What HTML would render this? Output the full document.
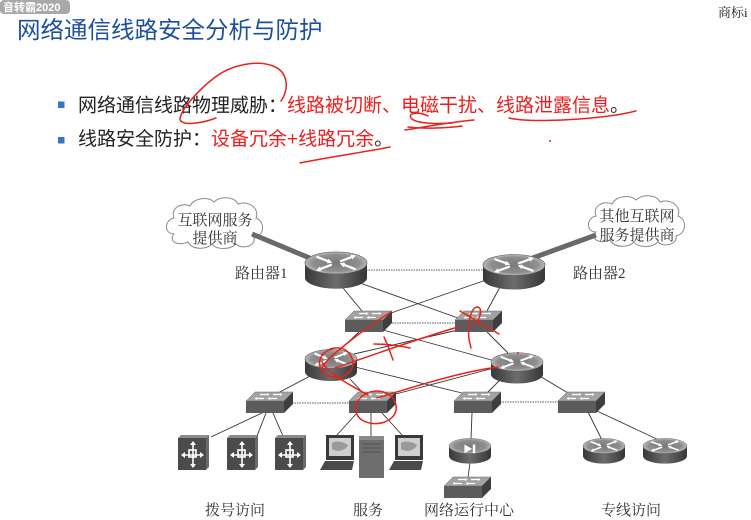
<!DOCTYPE html>
<html>
<head>
<meta charset="utf-8">
<style>
  html,body{margin:0;padding:0;background:#fff;}
  body{width:751px;height:520px;overflow:hidden;}
  svg{display:block;}
  .sans{font-family:"Liberation Sans","Noto Sans CJK SC",sans-serif;}
  .serif{font-family:"Liberation Serif","Noto Serif CJK SC",serif;}
</style>
</head>
<body>
<svg width="751" height="520" viewBox="0 0 751 520" xmlns="http://www.w3.org/2000/svg">
<defs>
  <linearGradient id="rb" x1="0" x2="1" y1="0" y2="0">
    <stop offset="0" stop-color="#383838"/>
    <stop offset="0.5" stop-color="#6c6c6c"/>
    <stop offset="1" stop-color="#363636"/>
  </linearGradient>
  <radialGradient id="rt" cx="0.5" cy="0.5" r="0.5">
    <stop offset="0" stop-color="#7a7a7a"/>
    <stop offset="0.75" stop-color="#8e8e8e"/>
    <stop offset="1" stop-color="#b8b8b8"/>
  </radialGradient>
  <marker id="ah" viewBox="0 0 4 4" markerWidth="2.2" markerHeight="2.2" refX="1" refY="2" orient="auto">
    <path d="M0,0 L4,2 L0,4Z" fill="#fff"/>
  </marker>
  <g id="router">
    <path d="M-30 0 L-30 14 A30 10.5 0 0 0 30 14 L30 0 Z" fill="url(#rb)"/>
    <ellipse rx="30" ry="10.5" fill="url(#rt)" stroke="#5a5a5a" stroke-width="0.6"/>
    <g stroke="#fff" stroke-width="2.2" fill="none" marker-end="url(#ah)">
      <path d="M-19 -6 L-7 -1.5"/>
      <path d="M19 6 L7 1.5"/>
      <path d="M4 -1.5 L16 -6"/>
      <path d="M-4 1.5 L-16 6"/>
    </g>
  </g>
  <g id="noc">
    <path d="M-30 0 L-30 14 A30 10.5 0 0 0 30 14 L30 0 Z" fill="url(#rb)"/>
    <ellipse rx="30" ry="10.5" fill="url(#rt)" stroke="#5a5a5a" stroke-width="0.6"/>
    <path d="M-8 -2 L3 4 L-8 10 Z" fill="#fff"/>
    <rect x="4" y="-2" width="3.5" height="12" fill="#fff"/>
  </g>
  <g id="sw">
    <polygon points="0,9 9,0 47,0 38,9" fill="#a3a3a3" stroke="#6a6a6a" stroke-width="0.5"/>
    <rect x="0" y="9" width="38" height="12" fill="#5c5c5c"/>
    <polygon points="38,9 47,0 47,12 38,21" fill="#3e3e3e"/>
    <g stroke="#fff" stroke-width="1.2">
      <path d="M14 2.5 H21 M27 2.5 H34 M11 6.5 H18 M24 6.5 H31"/>
    </g>
    <path d="M21 1 L23.5 2.5 L21 4Z M34 1 L36.5 2.5 L34 4Z M11 5 L8.5 6.5 L11 8Z M24 5 L21.5 6.5 L24 8Z" fill="#fff"/>
  </g>
  <g id="dial">
    <polygon points="0,3 3,0 31,0 28,3" fill="#8c8c8c"/>
    <polygon points="28,3 31,0 31,32 28,35" fill="#6a6a6a"/>
    <rect x="0" y="3" width="28" height="32" fill="#4b4b4b"/>
    <g stroke="#fff" stroke-width="1.6" fill="none">
      <path d="M6 20 H23 M15 9 V30"/>
      <rect x="11" y="15" width="7" height="7"/>
    </g>
    <path fill="#fff" d="M3 20 L7 17 L7 23Z M26 20 L22 17 L22 23Z M15 6 L12 10 L18 10Z M15 33 L12 29 L18 29Z"/>
  </g>
  <g id="lap">
    <rect x="6" y="0" width="28" height="25" fill="#3a3a3a"/>
    <rect x="9" y="3" width="22" height="18" fill="#cfcfcf"/>
    <path d="M12 8 C16 5, 24 7, 28 10 C26 15, 18 18, 12 14Z" fill="#9a9a9a"/>
    <polygon points="5,26 34,26 32,35 0,35" fill="#4a4a4a"/>
  </g>
  <path id="cloud" d="M10 38 C0 38, 0 24, 10 22 C6 12, 18 6, 26 10 C30 2, 44 0, 50 6 C56 0, 70 0, 74 8 C84 4, 96 12, 92 22 C102 26, 100 40, 90 42 C92 50, 78 54, 72 48 C66 54, 52 54, 48 48 C42 54, 28 54, 24 46 C14 50, 4 46, 10 38 Z" fill="#fff" stroke="#8a8a8a" stroke-width="1"/>
</defs>

<!-- watermark -->
<rect x="0" y="0" width="70" height="14" rx="4" fill="#a9a9a9"/>
<text x="3" y="11" class="sans" font-size="11" font-weight="bold" fill="#fff">音转霸2020</text>

<!-- top right -->
<text x="718" y="17" class="serif" font-size="13" fill="#222">商标i</text>

<!-- title -->
<text x="17" y="38" class="sans" font-size="23.5" fill="#1d4f9f">网络通信线路安全分析与防护</text>

<!-- bullets -->
<rect x="58" y="101.5" width="6.5" height="6.5" fill="#3375c8"/>
<rect x="58" y="137" width="6.5" height="6.5" fill="#3375c8"/>
<text x="78" y="111.5" class="sans" font-size="19" fill="#222">网络通信线路物理威胁：<tspan fill="#ee1d1d">线路被切断、电磁干扰、线路泄露信息</tspan><tspan fill="#333">。</tspan></text>
<text x="78" y="145" class="sans" font-size="19" fill="#222">线路安全防护：<tspan fill="#ee1d1d">设备冗余+线路冗余</tspan><tspan fill="#333">。</tspan></text>

<!-- red annotations on text -->
<g stroke="#e8221b" stroke-width="1.5" fill="none" stroke-linecap="round">
  <path d="M281 101 C289 90, 289 72, 273 66 C258 60, 232 64, 214 78 C196 92, 181 110, 180 119 C181 126, 200 124, 216 118"/>
  <path d="M428 116 C418 111, 406 113, 412 119 C418 124, 440 124, 452 123"/>
  <path d="M405 130 C425 127, 450 122, 474 120"/>
  <path d="M408 127 C425 129, 448 128, 462 126"/>
  <path d="M509 118 C530 123, 600 120, 636 111"/>
  <path d="M300 163 C330 157, 365 152, 390 147"/>
</g>
<circle cx="550" cy="141" r="1" fill="#e8221b"/>

<!-- clouds -->
<use href="#cloud" transform="translate(164,196)"/>
<use href="#cloud" transform="translate(586,194)"/>
<text class="serif" font-size="15" fill="#333" text-anchor="middle"><tspan x="215" y="225">互联网服务</tspan><tspan x="215" y="243">提供商</tspan></text>
<text class="serif" font-size="15" fill="#333" text-anchor="middle"><tspan x="637" y="221">其他互联网</tspan><tspan x="637" y="240">服务提供商</tspan></text>

<!-- thick links -->
<line x1="252" y1="234" x2="312" y2="259" stroke="#6a6a6a" stroke-width="5"/>
<line x1="530" y1="259" x2="596" y2="235" stroke="#6a6a6a" stroke-width="5"/>

<!-- dotted links -->
<g stroke="#555" stroke-width="1" stroke-dasharray="1.5 1">
  <line x1="366" y1="270" x2="484" y2="270"/>
  <line x1="392" y1="323" x2="455" y2="323"/>
  <line x1="292" y1="403" x2="349" y2="403"/>
  <line x1="500" y1="402" x2="558" y2="402"/>
</g>

<!-- thin links -->
<g stroke="#333" stroke-width="0.9">
  <line x1="343" y1="288" x2="362" y2="311"/>
  <line x1="360" y1="283" x2="458" y2="318"/>
  <line x1="486" y1="280" x2="391" y2="313"/>
  <line x1="500" y1="287" x2="487" y2="311"/>
  <line x1="360" y1="331" x2="340" y2="350"/>
  <line x1="383" y1="330" x2="495" y2="361"/>
  <line x1="458" y1="330" x2="354" y2="354"/>
  <line x1="487" y1="332" x2="508" y2="353"/>
  <line x1="312" y1="375" x2="278" y2="393"/>
  <line x1="350" y1="379" x2="363" y2="393"/>
  <line x1="355" y1="367" x2="462" y2="393"/>
  <line x1="494" y1="368" x2="392" y2="395"/>
  <line x1="500" y1="380" x2="487" y2="393"/>
  <line x1="538" y1="375" x2="568" y2="393"/>
  <line x1="262" y1="413" x2="211" y2="437"/>
  <line x1="266" y1="413" x2="257" y2="436"/>
  <line x1="273" y1="413" x2="283" y2="436"/>
  <line x1="357" y1="413" x2="336" y2="436"/>
  <line x1="371" y1="413" x2="371" y2="436"/>
  <line x1="382" y1="413" x2="403" y2="436"/>
  <line x1="472" y1="413" x2="471" y2="439"/>
  <line x1="470" y1="462" x2="468" y2="478"/>
  <line x1="588" y1="412" x2="602" y2="440"/>
  <line x1="597" y1="411" x2="661" y2="441"/>
</g>

<!-- routers -->
<use href="#router" transform="translate(336,263) scale(1.033,1.05)"/>
<use href="#router" transform="translate(514,265) scale(1.033,1)"/>
<use href="#router" transform="translate(331,359) scale(0.867,0.9)"/>
<use href="#router" transform="translate(517,362) scale(0.867,0.88)"/>
<use href="#router" transform="translate(604,446) scale(0.7,0.72)"/>
<use href="#router" transform="translate(665,446) scale(0.733,0.72)"/>
<use href="#noc" transform="translate(470,446) scale(0.7,0.72)"/>

<!-- switches -->
<use href="#sw" transform="translate(345,311)"/>
<use href="#sw" transform="translate(455,311)"/>
<use href="#sw" transform="translate(246,392)"/>
<use href="#sw" transform="translate(349,392)"/>
<use href="#sw" transform="translate(454,392)"/>
<use href="#sw" transform="translate(558,392)"/>
<use href="#sw" transform="translate(444,477)"/>

<!-- dial-up devices -->
<use href="#dial" transform="translate(178,435)"/>
<use href="#dial" transform="translate(227,435)"/>
<use href="#dial" transform="translate(275,435)"/>

<!-- laptops & server -->
<use href="#lap" transform="translate(320,435)"/>
<use href="#lap" transform="translate(389,435)"/>
<rect x="359" y="436" width="25" height="42" fill="#6e6e6e"/>
<rect x="359" y="436" width="25" height="4" fill="#8a8a8a"/>
<g stroke="#4a4a4a" stroke-width="0.8">
  <line x1="362" y1="444" x2="381" y2="444"/>
  <line x1="362" y1="448" x2="381" y2="448"/>
  <line x1="362" y1="452" x2="381" y2="452"/>
</g>

<!-- labels -->
<g class="serif" font-size="15" fill="#333">
  <text x="235" y="278">路由器1</text>
  <text x="573" y="278">路由器2</text>
  <text x="235" y="515" text-anchor="middle">拨号访问</text>
  <text x="368" y="515" text-anchor="middle">服务</text>
  <text x="469" y="515" text-anchor="middle">网络运行中心</text>
  <text x="631" y="515" text-anchor="middle">专线访问</text>
</g>

<!-- red annotations on diagram -->
<g stroke="#e8221b" stroke-width="1.5" fill="none" stroke-linecap="round">
  <path d="M391 312 C378 320, 360 333, 345 345 C335 353, 326 360, 322 368"/>
  <path d="M330 349 C345 344, 356 356, 352 368 C348 378, 330 380, 323 372 C316 364, 320 352, 332 349"/>
  <path d="M322 362 C330 375, 350 385, 368 395"/>
  <path d="M335 368 C370 356, 420 338, 458 327"/>
  <path d="M377 398 C420 385, 460 372, 498 367"/>
  <path d="M374 344 C385 344, 400 346, 410 348"/>
  <path d="M384 337 C388 345, 390 352, 393 360"/>
  <path d="M460 311 L499 334"/>
  <path d="M471 348 C466 332, 469 308, 477 307 C483 307, 481 318, 474 326"/>
  <path d="M370 392 C385 388, 398 398, 396 410 C394 422, 375 428, 362 420 C352 414, 354 398, 368 393"/>
</g>
<circle cx="518" cy="353" r="1" fill="#e8221b"/>
</svg>
</body>
</html>
